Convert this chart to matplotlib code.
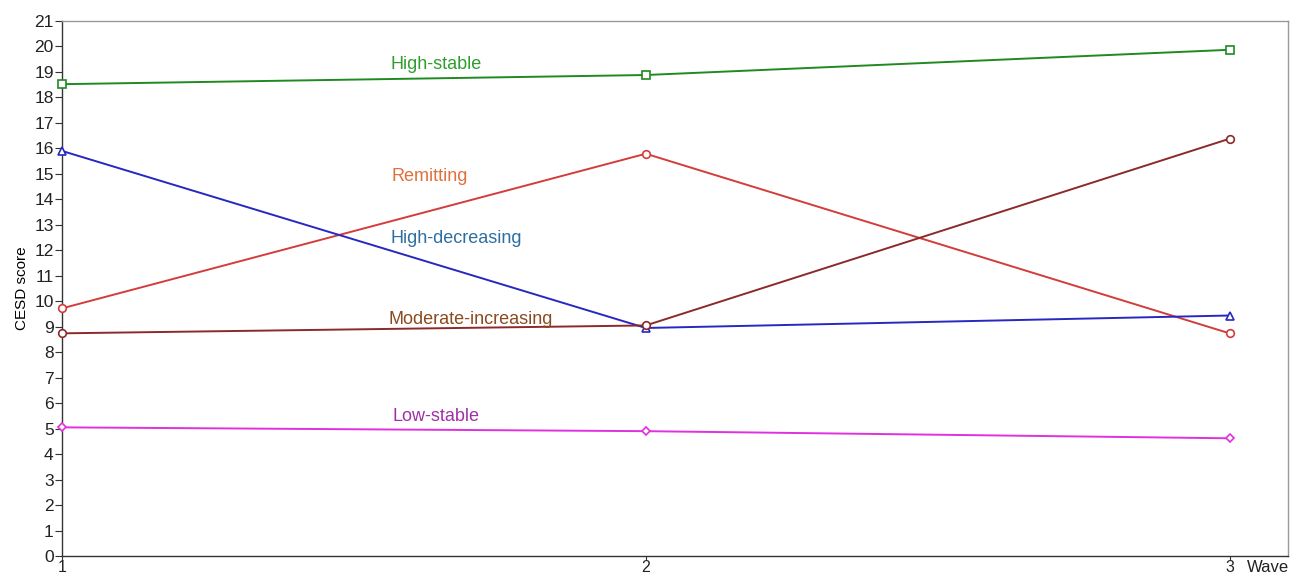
import matplotlib
matplotlib.use("Agg")
import matplotlib.pyplot as plt

plt.rcParams['font.family'] = ['Liberation Sans', 'DejaVu Sans']

waves = [1, 2, 3]
high_stable = [18.52, 18.88, 19.87]
remitting = [9.72, 15.79, 8.74]
high_decreasing = [15.9, 8.95, 9.44]
moderate_increasing = [8.74, 9.05, 16.38]
low_stable = [5.05, 4.9, 4.62]

series = [
    ("High-stable", high_stable, "#1f8a1f", "s", "#2f9e2f", (1.64, 19.3)),
    ("Remitting", remitting, "#d43c3c", "o", "#e0703c", (1.63, 14.9)),
    ("High-decreasing", high_decreasing, "#2828c0", "^", "#2e6fa0", (1.675, 12.46)),
    ("Moderate-increasing", moderate_increasing, "#8b2a2a", "o", "#8b4a20", (1.70, 9.29)),
    ("Low-stable", low_stable, "#e030e0", "D", "#a030a8", (1.64, 5.49)),
]

fig = plt.figure(figsize=(12.9, 5.77), dpi=100)
ax = fig.add_axes([62/1290, 1-556/577, (1288-62)/1290, (556-21)/577])

for name, vals, col, mk, lcol, pos in series:
    ms = 5.5 if mk != "D" else 4.5
    ax.plot(waves, vals, color=col, lw=1.4, marker=mk, ms=ms, mfc="white", mec=col, mew=1.2, clip_on=False, zorder=3)
    ax.text(pos[0], pos[1], name, color=lcol, fontsize=13, ha="center", va="center")

ax.set_xlim(1, 3.1)
ax.set_ylim(0, 21)
ax.set_xticks(waves)
ax.set_yticks(range(0, 22))
ax.tick_params(axis="y", labelsize=12.5, length=5, width=0.8, colors="#333333", labelcolor="#222222", pad=1)
ax.tick_params(axis="x", labelsize=11.5, length=3, width=0.8, colors="#333333", labelcolor="#222222", pad=0)
for s in ["left", "bottom"]:
    ax.spines[s].set_color("#333333")
    ax.spines[s].set_linewidth(1.0)
for s in ["top", "right"]:
    ax.spines[s].set_color("#999999")
    ax.spines[s].set_linewidth(1.0)
ax.set_ylabel("CESD score", fontsize=11, labelpad=4)
fig.text(1268/1290, 1-568/577, "Wave", fontsize=12, ha="center", va="center", color="#222222")

fig.savefig("out.png", dpi=100)
